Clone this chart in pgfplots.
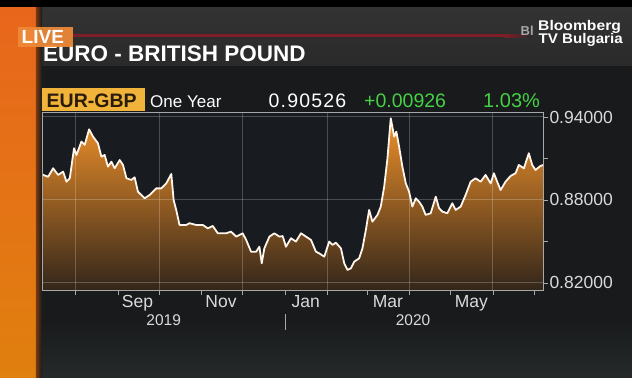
\documentclass[border=0pt]{standalone}
\usepackage{pgfplots}
\pgfplotsset{compat=1.18}
\usepackage{pgfplotstable}
\usepackage{fontspec}
\setmainfont{Liberation Sans}

\definecolor{panel}{HTML}{181A1B}
\definecolor{titleband}{HTML}{2A2A2A}
\definecolor{titlebandtop}{HTML}{333333}
\definecolor{plotbg}{HTML}{181C20}
\definecolor{bottomgrey}{HTML}{262A2B}
\definecolor{orangeTop}{HTML}{E8661C}
\definecolor{orangeBot}{HTML}{E0800F}
\definecolor{orangeEdge}{HTML}{7A3A10}
\definecolor{livebox}{HTML}{EE8A38}
\definecolor{redline}{HTML}{7E1E28}
\definecolor{tickerbox}{HTML}{F2B33A}
\definecolor{tickertext}{HTML}{2A1D08}
\definecolor{upgreen}{HTML}{45D145}
\definecolor{lbl}{HTML}{DADADA}
\definecolor{framec}{HTML}{A8A8A8}
\definecolor{fillTop}{HTML}{EE902A}
\definecolor{fillBot}{HTML}{33261A}

\pgfplotstableread{
day val
-24.1 0.8985
-23.8 0.8981
-20.1 0.8968
-16.5 0.9029
-12.8 0.8981
-9.2 0.9005
-6.7 0.8932
-4.3 0.8957
-1.2 0.9174
0.6 0.9125
4.2 0.9222
6.6 0.9198
9.8 0.9311
12.7 0.9258
16.3 0.9210
18.8 0.9113
21.2 0.9125
23.6 0.9041
26.1 0.9077
28.5 0.9029
32.2 0.9089
34.6 0.9053
37.1 0.8957
40.7 0.8945
43.1 0.8964
45.5 0.8860
50.4 0.8812
54.0 0.8836
58.9 0.8884
62.6 0.8884
66.2 0.8920
69.9 0.8988
71.6 0.8800
73.5 0.8728
75.9 0.8619
80.8 0.8619
83.2 0.8632
88.1 0.8619
92.9 0.8619
96.6 0.8595
100.2 0.8612
103.9 0.8559
110.0 0.8559
113.6 0.8571
117.3 0.8535
122.1 0.8559
124.6 0.8511
128.2 0.8426
131.9 0.8426
134.3 0.8462
136.0 0.8342
137.9 0.8450
141.6 0.8535
145.2 0.8559
148.9 0.8535
151.3 0.8539
153.7 0.8462
157.4 0.8523
161.0 0.8499
164.7 0.8559
168.3 0.8535
172.0 0.8511
175.6 0.8426
178.0 0.8414
181.7 0.8390
185.3 0.8499
187.7 0.8475
190.2 0.8491
193.9 0.8450
196.3 0.8342
198.7 0.8294
201.2 0.8306
203.6 0.8354
207.2 0.8378
209.6 0.8450
212.1 0.8583
214.5 0.8728
216.9 0.8643
220.6 0.8692
223.0 0.8752
225.5 0.8896
227.9 0.9102
230.3 0.9391
232.8 0.9258
234.4 0.9294
236.4 0.9185
238.8 0.9041
241.3 0.8920
243.7 0.8860
246.1 0.8752
248.6 0.8812
251.0 0.8788
253.4 0.8752
255.8 0.8692
259.5 0.8704
263.2 0.8824
265.6 0.8740
268.0 0.8716
271.6 0.8704
275.3 0.8776
277.7 0.8728
281.4 0.8752
285.0 0.8836
288.7 0.8932
292.3 0.8957
296.0 0.8932
299.6 0.8981
303.3 0.8920
305.7 0.8993
308.1 0.8932
310.6 0.8872
314.2 0.8932
317.9 0.8974
321.5 0.8993
323.9 0.9053
327.6 0.9029
328.8 0.9065
331.2 0.9138
333.7 0.9053
336.1 0.9017
339.7 0.9046
341.8 0.9053
}\eurgbp

\begin{document}
\begin{tikzpicture}
\useasboundingbox (0,0) rectangle (632bp,-378bp);
% ---------- background ----------
\begin{scope}[x=1bp,y=-1bp]
\fill[panel] (0,0) rectangle (632,378);
\shade[top color=panel, bottom color=bottomgrey] (0,318) rectangle (632,378);
\shade[top color=titlebandtop, bottom color=titleband] (0,7) rectangle (632,65);
\fill[black] (0,0) rectangle (632,7);
\shade[top color=orangeTop, bottom color=orangeBot] (0,7) rectangle (36,378);
\shade[left color=orangeEdge, right color=panel] (35.9,7) rectangle (42,378);
\end{scope}

\begin{axis}[
  at={(42.7bp,-290bp)}, anchor=south west,
  scale only axis, width=500.6bp, height=177.3bp,
  xmin=-24.1, xmax=341.8, ymin=0.8149, ymax=0.9431,
  clip=false,
  axis background/.style={fill=plotbg},
  axis line style={draw=framec, line width=0.8bp},
  axis on top,
  tick align=outside,
  xtick pos=bottom, ytick pos=right,
  yticklabel pos=right,
  % grid lines / ticks on Aug, Oct, Dec, Feb, Apr, Jun 1; month names centred in the month before
  xtick={0,61,122,184,244,305},
  xticklabels={,Sep,Nov,Jan,Mar,May},
  minor xtick={31,92,153,213,274,335},
  xmajorgrids=true, xminorgrids=false,
  xticklabel style={font=\fontsize{17.5bp}{18bp}\selectfont, text=lbl, anchor=north, inner sep=0pt, yshift=-1bp, xshift=-21.6bp},
  ytick={0.82,0.88,0.94},
  minor ytick={0.85,0.91},
  ymajorgrids=true, yminorgrids=false,
  major grid style={draw=white, draw opacity=0.22, line width=1bp},
  major tick length=4.5bp, minor tick length=4.5bp,
  every tick/.style={draw=framec, line width=0.8bp},
  /pgf/number format/assume math mode=true,
  yticklabel style={font=\fontsize{17.5bp}{18bp}\selectfont, text=lbl, anchor=west, inner sep=0pt, xshift=1.5bp,
    /pgf/number format/fixed, /pgf/number format/fixed zerofill, /pgf/number format/precision=5},
]
\addplot[top color=fillTop, bottom color=fillBot, draw=none] table[x=day, y=val] {\eurgbp}
  -- (axis cs:341.8,0.8149) -- (axis cs:-24.1,0.8149) -- cycle;
\addplot[white!92!orange, line width=1.8bp, line join=round] table[x=day, y=val] {\eurgbp};
\node[font=\fontsize{15.5bp}{16bp}\selectfont, text=lbl, anchor=base] at (axis cs:64.3,0.8149) [yshift=-35bp] {2019};
\node[font=\fontsize{15.5bp}{16bp}\selectfont, text=lbl, anchor=base] at (axis cs:246.6,0.8149) [yshift=-35bp] {2020};
\draw[framec, line width=0.8bp, yshift=-24bp] (axis cs:153,0.8149) -- ([yshift=-16bp]axis cs:153,0.8149);
\end{axis}

% ---------- header ----------
\begin{scope}[x=1bp,y=-1bp]
\fill[redline] (73,34.3) rectangle (505,37.3);
\shade[left color=redline, right color=titleband] (505,34.3) rectangle (532,37.3);
\node[anchor=base west, inner sep=0pt, text=white, font=\bfseries\fontsize{22.5bp}{26bp}\selectfont] at (43,61.2) {EURO - BRITISH POUND};
\fill[livebox, opacity=0.93] (18,26.5) rectangle (73,46.5);
\node[anchor=base west, inner sep=0pt, text=white, font=\bfseries\fontsize{19bp}{22bp}\selectfont] at (21.5,43.2) {LIVE};
% logo
\node[anchor=base west, inner sep=0pt, text=gray!70, font=\bfseries\fontsize{13bp}{14bp}\selectfont] at (520.5,35) {Bl};
\node[anchor=base west, inner sep=0pt, text=white, font=\bfseries\fontsize{14bp}{15bp}\selectfont] at (538,30.5) {\scalebox{1.12}[1]{Bloomberg}};
\node[anchor=base west, inner sep=0pt, text=white, font=\bfseries\fontsize{14bp}{15bp}\selectfont] at (538.5,43) {\scalebox{1.08}[1]{TV Bulgaria}};
% ticker row
\fill[tickerbox] (42,88) rectangle (145,111);
\node[anchor=base west, inner sep=0pt, text=tickertext, font=\bfseries\fontsize{19.5bp}{22bp}\selectfont] at (46.5,107.5) {EUR-GBP};
\node[anchor=base west, inner sep=0pt, text=white, font=\fontsize{17bp}{20bp}\selectfont] at (150,107.5) {One Year};
\node[anchor=base west, inner sep=0pt, text=white, font=\fontsize{19.5bp}{22bp}\selectfont] at (268.5,107.5) {\addfontfeature{LetterSpace=6}0.90526};
\node[anchor=base west, inner sep=0pt, text=upgreen, font=\fontsize{19.5bp}{22bp}\selectfont] at (364,107.5) {+0.00926};
\node[anchor=base west, inner sep=0pt, text=upgreen, font=\fontsize{20bp}{22bp}\selectfont] at (483,107.5) {1.03\%};
\end{scope}
\end{tikzpicture}
\end{document}
